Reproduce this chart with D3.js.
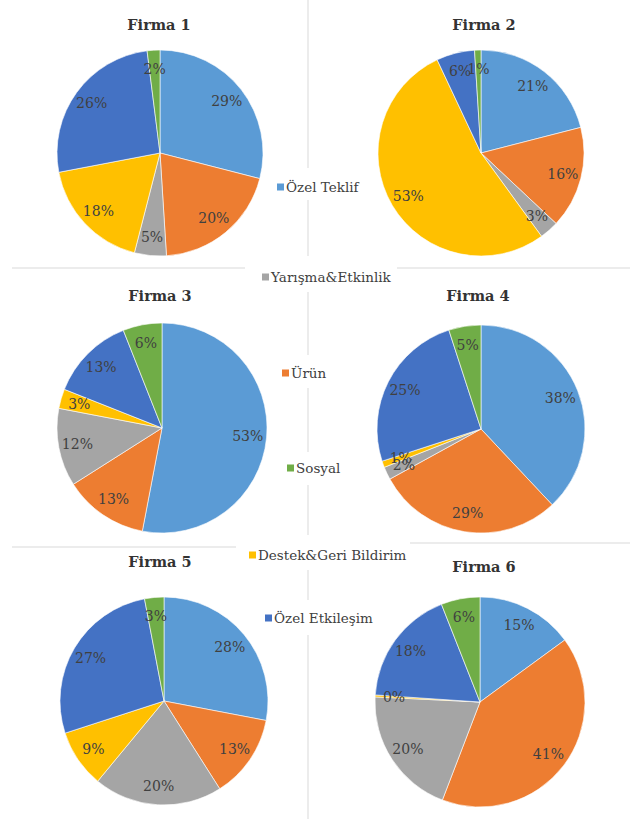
<!DOCTYPE html>
<html>
<head>
<meta charset="utf-8">
<script src="https://cdn.jsdelivr.net/npm/d3@7"></script>
<style>
  html, body { margin: 0; padding: 0; background: #fff; }
  svg { display: block; }
  svg text { font-family: "DejaVu Serif", "Liberation Serif", serif; }
</style>
</head>
<body>
<svg id="chart" width="630" height="819"></svg>
<script>
// Share of post types per company (percent)
const categories = ["Özel Teklif", "Ürün", "Yarışma&Etkinlik", "Destek&Geri Bildirim", "Özel Etkileşim", "Sosyal"];
const palette = ["#5B9BD5", "#ED7D31", "#A5A5A5", "#FFC000", "#4472C4", "#70AD47"];
const firmNames = ["Firma 1", "Firma 2", "Firma 3", "Firma 4", "Firma 5", "Firma 6"];

const firma1 = [29, 20, 5, 18, 26, 2];
const firma2 = [21, 16, 3, 53, 6, 1];
const firma3 = [53, 13, 12, 3, 13, 6];
const firma4 = [38, 29, 2, 1, 25, 5];
const firma5 = [28, 13, 20, 9, 27, 3];
const firma6 = [15, 41, 20, 0.3, 18, 6];
const firmValues = [firma1, firma2, firma3, firma4, firma5, firma6];

// Legend entries in the middle column
const legendOrder = ["Özel Teklif", "Yarışma&Etkinlik", "Ürün", "Sosyal", "Destek&Geri Bildirim", "Özel Etkileşim"];

const svg = d3.select("#chart");
const textColor = "#404040";

// Panel layout: pie centres, radii and title baselines
const panels = [
  { cx: 160, cy: 153, r: 103, tx: 159, ty: 30 },
  { cx: 481, cy: 153, r: 103, tx: 484, ty: 30 },
  { cx: 162, cy: 428, r: 105, tx: 160, ty: 301 },
  { cx: 481, cy: 429, r: 104, tx: 478, ty: 301 },
  { cx: 164, cy: 701, r: 104, tx: 160, ty: 567 },
  { cx: 480, cy: 702, r: 105, tx: 484, ty: 572 }
];

// Divider lines between the panels
const gridColor = "#d9d9d9";
const vSegments = [[0, 168], [200, 256], [292, 355], [388, 452], [485, 535], [570, 600], [635, 819]];
svg.append("g").selectAll("line.v").data(vSegments).join("line")
  .attr("x1", 308).attr("x2", 308)
  .attr("y1", d => d[0]).attr("y2", d => d[1])
  .attr("stroke", gridColor).attr("stroke-width", 1);
const hSegments = [[12, 245, 268], [397, 630, 268], [12, 236, 547], [410, 630, 543]];
svg.append("g").selectAll("line.h").data(hSegments).join("line")
  .attr("x1", d => d[0]).attr("x2", d => d[1])
  .attr("y1", d => d[2]).attr("y2", d => d[2])
  .attr("stroke", gridColor).attr("stroke-width", 1);

const color = d3.scaleOrdinal().domain(categories).range(palette);
const pie = d3.pie().sort(null).value(d => d.value);

firmValues.forEach((vals, i) => {
  const p = panels[i];
  const data = vals.map((v, j) => ({ cat: categories[j], value: v }));
  const arcs = pie(data);
  const arc = d3.arc().innerRadius(0).outerRadius(p.r);
  const labelArc = d3.arc().innerRadius(p.r * 0.82).outerRadius(p.r * 0.82);

  const g = svg.append("g").attr("transform", `translate(${p.cx},${p.cy})`);
  g.selectAll("path").data(arcs).join("path")
    .attr("d", arc)
    .attr("fill", d => color(d.data.cat))
    .attr("stroke", "#fff")
    .attr("stroke-width", 0.6);

  g.selectAll("text").data(arcs).join("text")
    .attr("transform", d => `translate(${labelArc.centroid(d)})`)
    .attr("text-anchor", "middle")
    .attr("dominant-baseline", "central")
    .attr("font-size", 14)
    .attr("fill", textColor)
    .text(d => Math.round(d.data.value) + "%");

  svg.append("text")
    .attr("x", p.tx).attr("y", p.ty)
    .attr("text-anchor", "middle")
    .attr("font-weight", "bold")
    .attr("font-size", 14.5)
    .attr("fill", "#333")
    .text(firmNames[i]);
});

// Legend
const legendPos = [
  { x: 277, y: 187 }, { x: 262, y: 277 }, { x: 282, y: 373 },
  { x: 287, y: 468 }, { x: 249, y: 555 }, { x: 265, y: 618 }
];
const lg = svg.append("g");
legendOrder.forEach((name, k) => {
  const pos = legendPos[k];
  lg.append("rect")
    .attr("x", pos.x).attr("y", pos.y - 3.5)
    .attr("width", 7).attr("height", 7)
    .attr("fill", color(name));
  lg.append("text")
    .attr("x", pos.x + 9).attr("y", pos.y)
    .attr("dominant-baseline", "central")
    .attr("font-size", 13.5)
    .attr("fill", textColor)
    .text(name);
});
</script>
</body>
</html>
